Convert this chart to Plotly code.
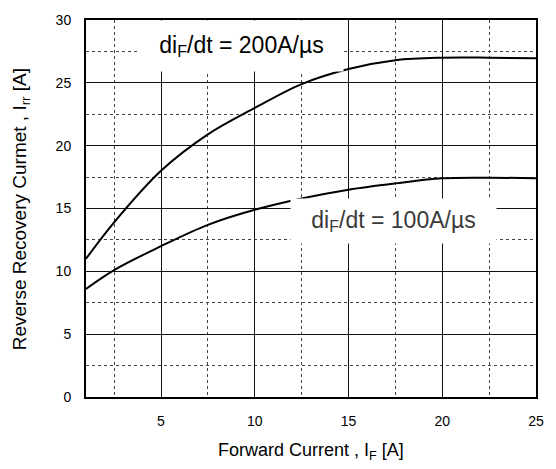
import plotly.graph_objects as go

# Data
forward_current = [1, 2.5, 5, 7.5, 10, 12.5, 15, 17.5, 20, 22.5, 25]
irr_200 = [11.0, 13.9, 18.0, 20.9, 23.0, 24.9, 26.1, 26.8, 27.0, 27.0, 26.95]
irr_100 = [8.6, 10.1, 12.0, 13.7, 14.9, 15.8, 16.5, 17.0, 17.4, 17.45, 17.4]
label_200 = "di<sub>F</sub>/dt = 200A/µs"
label_100 = "di<sub>F</sub>/dt = 100A/µs"
x_title = "Forward Current , I<sub>F</sub> [A]"
y_title = "Reverse Recovery Curmet , I<sub>rr</sub> [A]"

FONT = "Arial, Liberation Sans, sans-serif"

fig = go.Figure()
fig.add_trace(go.Scatter(x=forward_current, y=irr_200, mode="lines",
                         line=dict(color="black", width=2, shape="spline", smoothing=1.0),
                         showlegend=False, hoverinfo="skip"))
fig.add_trace(go.Scatter(x=forward_current, y=irr_100, mode="lines",
                         line=dict(color="black", width=2, shape="spline", smoothing=1.0),
                         showlegend=False, hoverinfo="skip"))

axis_common = dict(
    showline=True, mirror=True, linewidth=2, linecolor="black",
    showgrid=True, gridcolor="#111111", gridwidth=1,
    zeroline=False, ticks="",
    tickfont=dict(family=FONT, size=14, color="black"),
    ticklabelstandoff=10,
)

fig.update_xaxes(range=[1, 25], tick0=0, dtick=5,
                 minor=dict(tick0=0, dtick=2.5, showgrid=True, griddash="dot",
                            gridcolor="#444444", gridwidth=1),
                 **axis_common)
fig.update_yaxes(range=[0, 30], tick0=0, dtick=5,
                 minor=dict(tick0=0, dtick=2.5, showgrid=True, griddash="dot",
                            gridcolor="#444444", gridwidth=1),
                 **axis_common)

fig.add_annotation(x=9.28, y=27.95, xref="x", yref="y", text=label_200,
                   showarrow=False, bgcolor="white", borderpad=5,
                   width=193, height=40,
                   font=dict(family=FONT, size=23, color="black"))
fig.add_annotation(x=17.4, y=13.98, xref="x", yref="y", text=label_100,
                   showarrow=False, bgcolor="white", borderpad=5,
                   width=195, height=34,
                   font=dict(family=FONT, size=23, color="#3a3a3a"))

fig.add_annotation(x=0.5, y=-0.1444, xref="paper", yref="paper", text=x_title,
                   showarrow=False, xanchor="center", yanchor="middle",
                   font=dict(family=FONT, size=18, color="black"))
fig.add_annotation(x=-0.1438, y=0.4987, xref="paper", yref="paper", text=y_title,
                   showarrow=False, textangle=-90, xanchor="center", yanchor="middle",
                   font=dict(family=FONT, size=19, color="black"))

fig.update_layout(
    width=556, height=469,
    margin=dict(l=86, r=18, t=16, b=72),
    paper_bgcolor="white", plot_bgcolor="white",
    showlegend=False,
)

fig.write_html("out.html")
